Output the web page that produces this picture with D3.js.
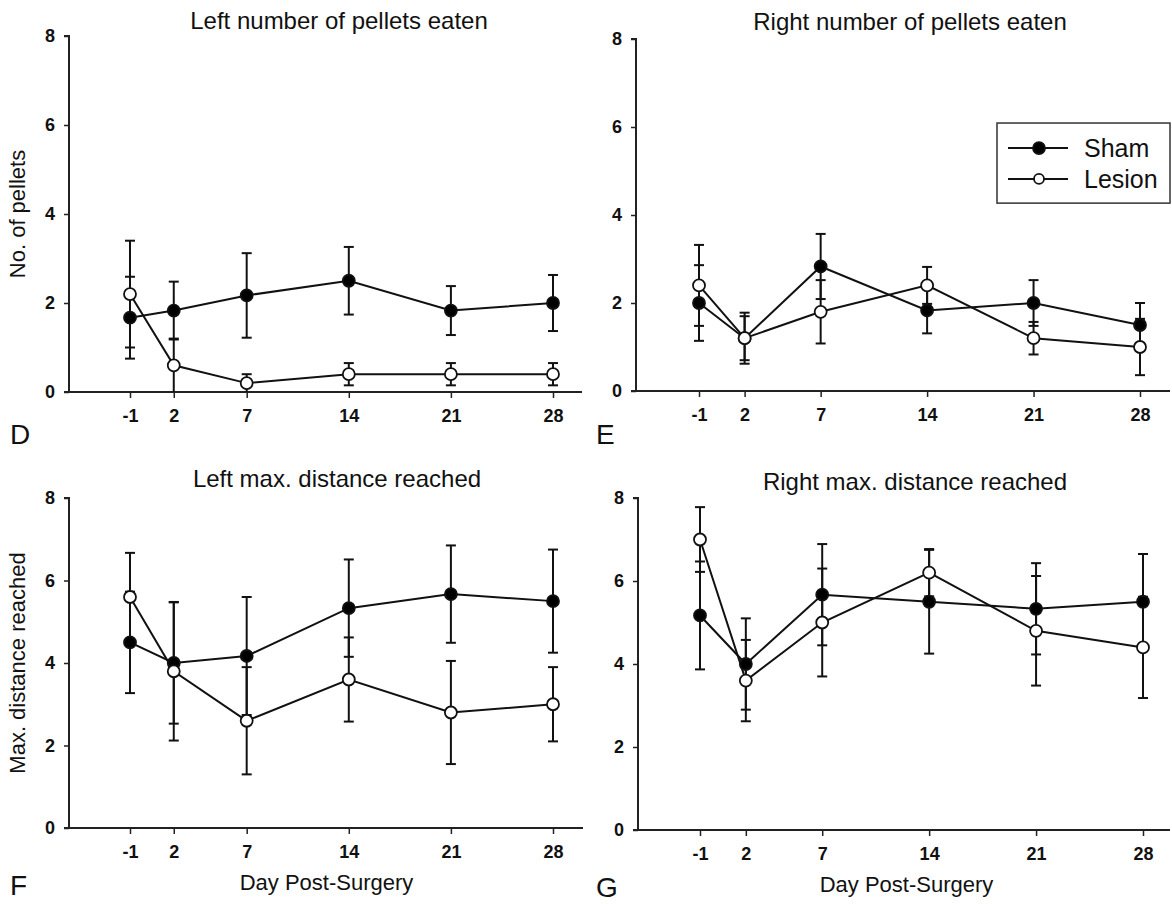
<!DOCTYPE html>
<html>
<head>
<meta charset="utf-8">
<script src="https://cdn.jsdelivr.net/npm/d3@7"></script>
<style>
  html, body { margin: 0; padding: 0; background: #fff; }
  svg text { font-family: "Liberation Sans", Arial, sans-serif; fill: #111; }
</style>
</head>
<body>
<svg id="fig" width="1172" height="904"></svg>
<script>
// Days after surgery (shared x positions)
const days = [-1, 2, 7, 14, 21, 28];
const dayLabels = ["-1", "2", "7", "14", "21", "28"];
const yTicks = [0, 2, 4, 6, 8];

// D: left number of pellets eaten
const leftPelletsSham      = [1.67, 1.83, 2.17, 2.50, 1.83, 2.00];
const leftPelletsShamErr   = [0.92, 0.65, 0.95, 0.76, 0.55, 0.63];
const leftPelletsLesion    = [2.20, 0.60, 0.20, 0.40, 0.40, 0.40];
const leftPelletsLesionErr = [1.20, 0.60, 0.20, 0.25, 0.25, 0.25];

// E: right number of pellets eaten
const rightPelletsSham      = [2.00, 1.20, 2.83, 1.83, 2.00, 1.50];
const rightPelletsShamErr   = [0.86, 0.50, 0.74, 0.52, 0.52, 0.50];
const rightPelletsLesion    = [2.40, 1.20, 1.80, 2.40, 1.20, 1.00];
const rightPelletsLesionErr = [0.92, 0.58, 0.72, 0.42, 0.37, 0.64];

// F: left max. distance reached
const leftDistSham      = [4.50, 4.00, 4.17, 5.33, 5.67, 5.50];
const leftDistShamErr   = [1.23, 1.47, 1.43, 1.18, 1.18, 1.25];
const leftDistLesion    = [5.60, 3.80, 2.60, 3.60, 2.80, 3.00];
const leftDistLesionErr = [1.07, 1.68, 1.30, 1.02, 1.25, 0.90];

// G: right max. distance reached
const rightDistSham      = [5.17, 4.00, 5.67, 5.50, 5.33, 5.50];
const rightDistShamErr   = [1.30, 1.10, 1.22, 1.25, 1.10, 1.15];
const rightDistLesion    = [7.00, 3.60, 5.00, 6.20, 4.80, 4.40];
const rightDistLesionErr = [0.78, 0.98, 1.30, 0.57, 1.32, 1.22];

const groupNames = ["Sham", "Lesion"];

const panels = [
  { letter: "D", title: "Left number of pellets eaten", ylabel: "No. of pellets", xlabel: null,
    sham: leftPelletsSham, shamErr: leftPelletsShamErr, lesion: leftPelletsLesion, lesionErr: leftPelletsLesionErr,
    box: { axisX: 69, x0: 130, x1: 553, xEnd: 582, y0: 392, y8: 36 },
    titleX: 339, titleY: 29, letterX: 10, letterY: 444, legend: false },
  { letter: "E", title: "Right number of pellets eaten", ylabel: null, xlabel: null,
    sham: rightPelletsSham, shamErr: rightPelletsShamErr, lesion: rightPelletsLesion, lesionErr: rightPelletsLesionErr,
    box: { axisX: 636, x0: 699, x1: 1140, xEnd: 1170, y0: 391, y8: 39 },
    titleX: 910, titleY: 30, letterX: 596, letterY: 444, legend: true },
  { letter: "F", title: "Left max. distance reached", ylabel: "Max. distance reached", xlabel: "Day Post-Surgery",
    sham: leftDistSham, shamErr: leftDistShamErr, lesion: leftDistLesion, lesionErr: leftDistLesionErr,
    box: { axisX: 69, x0: 130, x1: 553, xEnd: 583, y0: 828, y8: 498 },
    titleX: 337, titleY: 487, letterX: 10, letterY: 895, legend: false },
  { letter: "G", title: "Right max. distance reached", ylabel: null, xlabel: "Day Post-Surgery",
    sham: rightDistSham, shamErr: rightDistShamErr, lesion: rightDistLesion, lesionErr: rightDistLesionErr,
    box: { axisX: 638, x0: 700, x1: 1143, xEnd: 1170, y0: 830, y8: 498 },
    titleX: 915, titleY: 490, letterX: 596, letterY: 897, legend: false }
];

const svg = d3.select("#fig");
const R = 6, CAP = 5;
const FONT = "'Liberation Sans', Arial, sans-serif";

panels.forEach(p => {
  const b = p.box;
  const x = d3.scaleLinear().domain([-1, 28]).range([b.x0, b.x1]);
  const y = d3.scaleLinear().domain([0, 8]).range([b.y0, b.y8]);
  const g = svg.append("g");

  // y axis
  const yAxis = d3.axisLeft(y).tickValues(yTicks).tickSize(5).tickPadding(9);
  const ya = g.append("g").attr("transform", `translate(${b.axisX},0)`).call(yAxis);
  ya.select(".domain").attr("d", `M-5,${b.y8}H0V${b.y0}`).attr("stroke", "#222").attr("stroke-width", 2);
  ya.selectAll(".tick line").attr("stroke", "#222").attr("stroke-width", 1.5);
  ya.selectAll(".tick text").attr("font-size", 18).attr("font-weight", "bold")
    .style("font-family", FONT).attr("fill", "#111");

  // x axis
  const xAxis = d3.axisBottom(x).tickValues(days).tickSize(6).tickPadding(11)
    .tickFormat((d, i) => dayLabels[i]);
  const xa = g.append("g").attr("transform", `translate(0,${b.y0})`).call(xAxis);
  xa.select(".domain").attr("d", `M${b.axisX - 5},0H${b.xEnd}`).attr("stroke", "#222").attr("stroke-width", 2);
  xa.selectAll(".tick line").attr("stroke", "#222").attr("stroke-width", 1.5);
  xa.selectAll(".tick text").attr("font-size", 18).attr("font-weight", "bold")
    .style("font-family", FONT).attr("fill", "#111");

  // titles and labels
  g.append("text").attr("x", p.titleX).attr("y", p.titleY)
    .attr("text-anchor", "middle").attr("font-size", 24).text(p.title);
  g.append("text").attr("x", p.letterX).attr("y", p.letterY)
    .attr("font-size", 28).text(p.letter);
  if (p.ylabel) {
    g.append("text")
      .attr("transform", `translate(25,${(b.y0 + b.y8) / 2}) rotate(-90)`)
      .attr("text-anchor", "middle").attr("font-size", 22).text(p.ylabel);
  }
  if (p.xlabel) {
    g.append("text").attr("x", (b.x0 + b.x1) / 2 - 15).attr("y", b.y0 + 62)
      .attr("text-anchor", "middle").attr("font-size", 22).text(p.xlabel);
  }

  const series = [
    { vals: p.sham, errs: p.shamErr, fill: "#000" },
    { vals: p.lesion, errs: p.lesionErr, fill: "#fff" }
  ];

  // error bars
  series.forEach(s => {
    const eg = g.append("g").attr("stroke", "#111").attr("stroke-width", 2);
    days.forEach((d, i) => {
      const lo = Math.max(0, s.vals[i] - s.errs[i]), hi = s.vals[i] + s.errs[i];
      eg.append("line").attr("x1", x(d)).attr("x2", x(d)).attr("y1", y(lo)).attr("y2", y(hi));
      eg.append("line").attr("x1", x(d) - CAP).attr("x2", x(d) + CAP).attr("y1", y(hi)).attr("y2", y(hi));
      if (s.vals[i] - s.errs[i] > 0.001)
        eg.append("line").attr("x1", x(d) - CAP).attr("x2", x(d) + CAP).attr("y1", y(lo)).attr("y2", y(lo));
    });
  });

  // connecting lines
  const line = d3.line().x((v, i) => x(days[i])).y(v => y(v));
  series.forEach(s => {
    g.append("path").attr("d", line(s.vals)).attr("fill", "none")
      .attr("stroke", "#111").attr("stroke-width", 2);
  });

  // markers
  series.forEach(s => {
    g.append("g").selectAll("circle").data(s.vals).join("circle")
      .attr("cx", (v, i) => x(days[i])).attr("cy", v => y(v)).attr("r", R)
      .attr("fill", s.fill).attr("stroke", "#111").attr("stroke-width", 1.8);
  });

  // legend
  if (p.legend) {
    const top = y(6.09), bot = y(4.27), left = 997, right = 1170;
    const lg = g.append("g");
    lg.append("rect").attr("x", left).attr("y", top).attr("width", right - left).attr("height", bot - top)
      .attr("fill", "#fff").attr("stroke", "#333").attr("stroke-width", 1.5);
    const rows = [y(5.52), y(4.82)];
    groupNames.forEach((name, i) => {
      lg.append("line").attr("x1", 1008).attr("x2", 1068).attr("y1", rows[i]).attr("y2", rows[i])
        .attr("stroke", "#111").attr("stroke-width", 2);
      lg.append("circle").attr("cx", 1039).attr("cy", rows[i]).attr("r", i === 0 ? 6 : 5)
        .attr("fill", i === 0 ? "#000" : "#fff").attr("stroke", "#111").attr("stroke-width", 1.8);
      lg.append("text").attr("x", 1084).attr("y", rows[i] + 9).attr("font-size", 25).text(name);
    });
  }
});
</script>
</body>
</html>
